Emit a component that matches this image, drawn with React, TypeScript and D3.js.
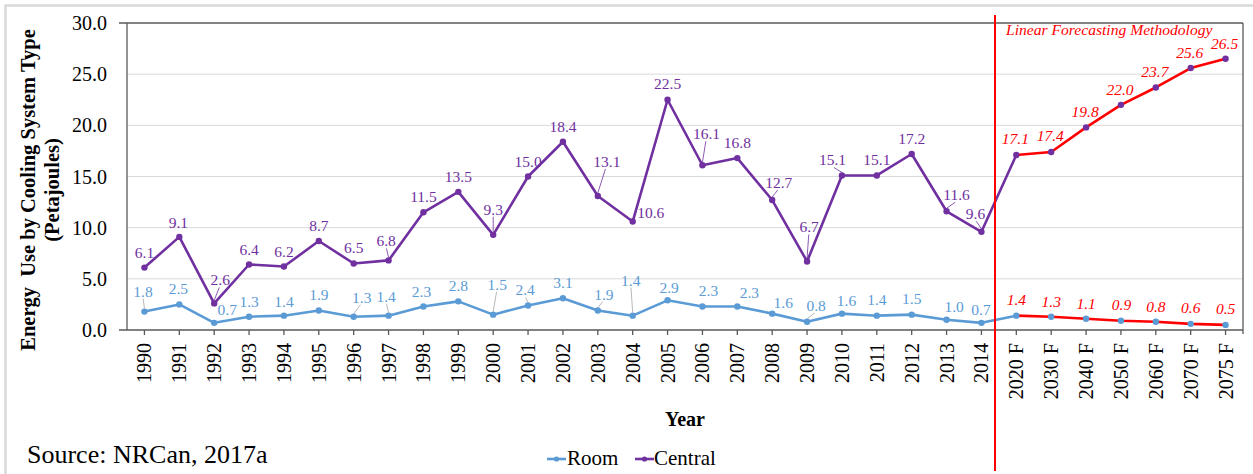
import React from "react";
import * as d3 from "d3";

const categories = [
  "1990","1991","1992","1993","1994","1995","1996","1997","1998","1999",
  "2000","2001","2002","2003","2004","2005","2006","2007","2008","2009",
  "2010","2011","2012","2013","2014",
  "2020 F","2030 F","2040 F","2050 F","2060 F","2070 F","2075 F",
];
const forecastStart = 25; // index of first forecast category
const roomValues = [
  1.8, 2.5, 0.7, 1.3, 1.4, 1.9, 1.3, 1.4, 2.3, 2.8,
  1.5, 2.4, 3.1, 1.9, 1.4, 2.9, 2.3, 2.3, 1.6, 0.8,
  1.6, 1.4, 1.5, 1.0, 0.7,
  1.4, 1.3, 1.1, 0.9, 0.8, 0.6, 0.5,
];
const centralValues = [
  6.1, 9.1, 2.6, 6.4, 6.2, 8.7, 6.5, 6.8, 11.5, 13.5,
  9.3, 15.0, 18.4, 13.1, 10.6, 22.5, 16.1, 16.8, 12.7, 6.7,
  15.1, 15.1, 17.2, 11.6, 9.6,
  17.1, 17.4, 19.8, 22.0, 23.7, 25.6, 26.5,
];
const yTicks = [0, 5, 10, 15, 20, 25, 30];

// label offsets relative to point: [dx, dy(baseline), leader]
const centralLabelOffsets: [number, number, number][] = [
  [0,-10,0],[-1,-9,0],[6,-18,1],[0,-9.5,0],[0,-10,0],[0,-9.5,0],[0,-10,0],[-2.5,-14,1],[0,-10.5,0],[0,-10,0],
  [0,-20,1],[0,-10,0],[0,-10,0],[9,-29,1],[18,-3.5,0],[0,-11,0],[4,-26,1],[0,-10,0],[6.5,-12,1],[2,-29,1],
  [-9.5,-10,1],[0,-10,0],[0,-10,0],[10,-11,1],[-6,-12.5,1],
  [-1,-11,0],[-1,-11,0],[-1,-10,0],[-1,-10,0],[-1,-10,0],[-1,-10.5,0],[-1,-10,0],
];
const roomLabelOffsets: [number, number, number][] = [
  [-1.5,-15,1],[-1,-10,0],[13,-8,0],[0,-10,0],[0,-9,0],[0,-11,0],[8,-14,1],[-2.5,-14,1],[-2,-9,0],[0,-10,0],
  [4,-25,1],[-3,-10,1],[0,-10,0],[6,-11,1],[-2,-30,1],[1.5,-7,0],[6,-10,0],[12,-8,0],[11,-6,0],[9,-11,1],
  [4.5,-7.5,0],[0,-10.5,0],[0,-10.5,0],[7.5,-8,0],[-0.5,-8,0],
  [0,-10.5,0],[0,-9.5,0],[0,-9.7,0],[0.5,-11,0],[0,-9.5,0],[0,-10.5,0],[0,-11,0],
];

const W = 1253;
const H = 474;
const M = { left: 127, right: 1243, top: 23, bottom: 330 };
const FONT = "Liberation Serif, Times New Roman, serif";
const ROOM = "#5B9BD5";
const CENTRAL = "#7030A0";
const RED = "#FF0000";

export default function App() {
  const x = d3.scaleBand<string>().domain(categories).range([M.left, M.right]).padding(0);
  const cx = (i: number) => (x(categories[i]) as number) + x.bandwidth() / 2;
  const y = d3.scaleLinear().domain([0, 30]).range([M.bottom, M.top]);
  const fmt = d3.format(".1f");
  const line = d3.line<[number, number]>().x((d) => d[0]).y((d) => d[1]);

  const series = [
    { name: "Room", values: roomValues, color: ROOM, offsets: roomLabelOffsets, leader: "#A6A6A6" },
    { name: "Central", values: centralValues, color: CENTRAL, offsets: centralLabelOffsets, leader: CENTRAL },
  ];

  const dividerX = 995;

  return (
    <svg width={W} height={H} style={{ position: "absolute", left: 0, top: 0, background: "#fff", fontFamily: FONT }}>
      <rect x={5.5} y={5.5} width={W + 20} height={H + 20} fill="#fff" stroke="#D9D9D9" strokeWidth={2.5} />
      {/* gridlines */}
      {yTicks.filter((t) => t > 0 && t < 30).map((t) => (
        <line key={t} x1={M.left} x2={M.right} y1={y(t)} y2={y(t)} stroke="#D9D9D9" strokeWidth={1} />
      ))}
      {/* plot frame */}
      <line x1={119} x2={M.right} y1={M.top} y2={M.top} stroke="#595959" strokeWidth={1.3} />
      <line x1={119} x2={M.right} y1={M.bottom} y2={M.bottom} stroke="#595959" strokeWidth={1.3} />
      <line x1={M.left} x2={M.left} y1={M.top} y2={M.bottom} stroke="#595959" strokeWidth={1.3} />
      <line x1={M.right} x2={M.right} y1={M.top} y2={M.bottom + 4} stroke="#595959" strokeWidth={1.3} />
      {categories.map((c, i) => (
        <line key={c} x1={cx(i)} x2={cx(i)} y1={M.bottom} y2={M.bottom + 5} stroke="#595959" strokeWidth={1.3} />
      ))}
      {/* y tick labels */}
      {yTicks.map((t) => (
        <text key={t} x={107} y={y(t)} dy="0.35em" textAnchor="end" fontSize={20} fill="#000" fontFamily={FONT}>
          {fmt(t)}
        </text>
      ))}
      {/* x tick labels */}
      {categories.map((c, i) => (
        <text key={c} transform={`translate(${cx(i)},343) rotate(-90)`} dy="0.35em" textAnchor="end" fontSize={20} fill="#000" fontFamily={FONT}>
          {c}
        </text>
      ))}
      {/* series lines */}
      {series.map((s) => {
        const pts: [number, number][] = s.values.map((v, i) => [cx(i), y(v)]);
        const hist = pts.slice(0, forecastStart + 1);
        const fc = pts.slice(forecastStart);
        return (
          <g key={s.name}>
            <path d={line(hist) as string} fill="none" stroke={s.color} strokeWidth={2.6} strokeLinejoin="round" />
            <path d={line(fc) as string} fill="none" stroke={RED} strokeWidth={2.6} strokeLinejoin="round" />
            {pts.map((p, i) => (
              <circle key={i} cx={p[0]} cy={p[1]} r={3.2} fill={s.color} />
            ))}
          </g>
        );
      })}
      {/* data labels */}
      {series.map((s) => (
        <g key={s.name + "lbl"}>
          {s.values.map((v, i) => {
            const px = cx(i);
            const py = y(v);
            const [dx, dy, ld] = s.offsets[i];
            const lx = px + dx;
            const ly = py + dy;
            const isF = i >= forecastStart;
            return (
              <g key={i}>
                {ld ? (
                  <line x1={px} y1={py - 3} x2={lx - dx * 0.15} y2={ly + 2} stroke={s.leader} strokeWidth={0.8} />
                ) : null}
                <text x={lx} y={ly} textAnchor="middle" fontSize={15.5} fill={isF ? RED : s.color} fontStyle={isF ? "italic" : "normal"} fontFamily={FONT}>
                  {fmt(v)}
                </text>
              </g>
            );
          })}
        </g>
      ))}
      {/* forecast divider */}
      <line x1={dividerX} x2={dividerX} y1={15} y2={471} stroke={RED} strokeWidth={2} />
      <text x={1006} y={35} fontSize={15.6} fontStyle="italic" fill={RED} fontFamily={FONT}>Linear Forecasting Methodology</text>
      {/* axis titles */}
      <text x={(M.left + M.right) / 2} y={426} textAnchor="middle" fontSize={20} fontWeight="bold" fill="#000" fontFamily={FONT}>Year</text>
      <g transform="translate(28,190) rotate(-90)">
        <text x={0} y={0} dy="0.35em" textAnchor="middle" fontSize={20.5} fontWeight="bold" fill="#000" fontFamily={FONT} style={{ whiteSpace: "pre" }}>
          {"Energy  Use by Cooling System Type"}
        </text>
        <text x={0} y={24} dy="0.35em" textAnchor="middle" fontSize={20.5} fontWeight="bold" fill="#000" fontFamily={FONT}>(Petajoules)</text>
      </g>
      {/* source */}
      <text x={27} y={463} fontSize={26} fill="#000" fontFamily={FONT}>Source: NRCan, 2017a</text>
      {/* legend */}
      <g>
        <line x1={547} x2={566} y1={459} y2={459} stroke={ROOM} strokeWidth={2.6} />
        <circle cx={556.5} cy={459} r={2.6} fill={ROOM} />
        <text x={567} y={465} fontSize={21} fill="#000" fontFamily={FONT}>Room</text>
        <line x1={635} x2={654} y1={459} y2={459} stroke={CENTRAL} strokeWidth={2.6} />
        <circle cx={644.5} cy={459} r={2.6} fill={CENTRAL} />
        <text x={654} y={465} fontSize={21} fill="#000" fontFamily={FONT}>Central</text>
      </g>
    </svg>
  );
}
